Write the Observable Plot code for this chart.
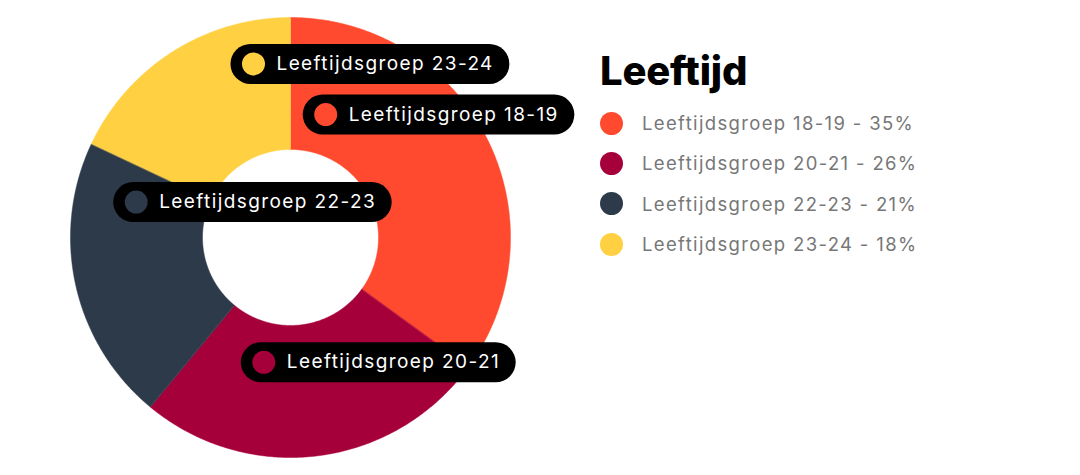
<!DOCTYPE html>
<html>
<head>
<meta charset="utf-8">
<script src="https://cdn.jsdelivr.net/npm/d3@7"></script>
<script src="https://cdn.jsdelivr.net/npm/@observablehq/plot@0.6"></script>
<style>
  html, body { margin: 0; padding: 0; background: #fff; }
  #wrap { position: relative; width: 1080px; height: 475px; font-family: Inter, sans-serif; }
  #chart { position: absolute; left: 0; top: 0; }
  #legend { position: absolute; left: 600px; top: 46px; }
  #legend .title { font-size: 40px; font-weight: 800; color: #000; line-height: 50px; height: 57px; letter-spacing: -0.2px; }
  #legend .item { display: flex; align-items: center; height: 40.3px; }
  #legend .sw { width: 23px; height: 23px; border-radius: 50%; margin-right: 19px; flex: none; }
  #legend .lb { font-size: 18.5px; color: #777; letter-spacing: 1.35px; }
</style>
</head>
<body>
<div id="wrap">
  <div id="chart"></div>
  <div id="legend"></div>
</div>
<script>
// ---- data ----
const categories = ["Leeftijdsgroep 18-19", "Leeftijdsgroep 20-21", "Leeftijdsgroep 22-23", "Leeftijdsgroep 23-24"];
const values = [35, 26, 21, 18];
const colors = ["#FF4A2F", "#A6003B", "#2D3A4A", "#FFD041"];
const legendTitle = "Leeftijd";

// ---- layout (styling, not data) ----
const W = 580, H = 475, mL = 70, mR = 70, mT = 17, mB = 18;
const k = (W - mL - mR) / 2;            // pixels per unit radius
const innerR = 0.4;                     // donut hole fraction
const labelR = 0.7;                     // anchor radius for tooltips
const tipFont = 19, tipFamily = "Inter", tipSpacing = 1.4;
// tooltip pill offsets from slice centroid, in px: [left edge dx, vertical center dy]
const tipOffset = [[-125, -53], [-69, -28], [-27, -69], [22.5, -43.5]];

const total = d3.sum(values);
const slices = [];
let cum = 0;
values.forEach((v, i) => {
  const a0 = 2 * Math.PI * cum / total;
  cum += v;
  const a1 = 2 * Math.PI * cum / total;
  slices.push({cat: categories[i], value: v, a0, a1, am: (a0 + a1) / 2});
});

// polygon outlines for each slice
const ring = [];
for (const s of slices) {
  const n = Math.max(2, Math.ceil((s.a1 - s.a0) / (Math.PI / 360)));
  for (let j = 0; j <= n; j++) {
    const t = s.a0 + (s.a1 - s.a0) * j / n;
    ring.push({cat: s.cat, x: Math.sin(t), y: Math.cos(t)});
  }
  for (let j = n; j >= 0; j--) {
    const t = s.a0 + (s.a1 - s.a0) * j / n;
    ring.push({cat: s.cat, x: innerR * Math.sin(t), y: innerR * Math.cos(t)});
  }
}

// measure text width for pills
const ctx = document.createElement("canvas").getContext("2d");
ctx.font = `${tipFont}px ${tipFamily}`;

const tips = slices.map((s, i) => {
  const cx = labelR * Math.sin(s.am), cy = labelR * Math.cos(s.am);
  const [dx, dy] = tipOffset[i];
  const left = cx + dx / k;
  const y = cy - dy / k;
  const tw = ctx.measureText(s.cat).width + tipSpacing * (s.cat.length - 1);
  const w = 46 + tw + 17;
  return {cat: s.cat, x1: left + 20 / k, x2: left + (w - 20) / k, y, dotX: left + 23 / k, textX: left + 46 / k};
});

const chart = Plot.plot({
  width: W, height: H,
  marginLeft: mL, marginRight: mR, marginTop: mT, marginBottom: mB,
  x: {domain: [-1, 1], axis: null},
  y: {domain: [-1, 1], axis: null},
  color: {domain: categories, range: colors},
  style: {fontFamily: tipFamily, background: "transparent", letterSpacing: `${tipSpacing}px`},
  marks: [
    Plot.line(ring, {x: "x", y: "y", z: "cat", fill: "cat", stroke: "cat", strokeWidth: 0.5, curve: "linear-closed"}),
    Plot.link(tips, {x1: "x1", x2: "x2", y1: "y", y2: "y", stroke: "#000", strokeWidth: 40, strokeLinecap: "round"}),
    Plot.dot(tips, {x: "dotX", y: "y", r: 11.5, fill: "cat", stroke: null}),
    Plot.text(tips, {x: "textX", y: "y", text: "cat", textAnchor: "start", fill: "#fff", fontSize: tipFont, fontFamily: tipFamily})
  ]
});
document.getElementById("chart").appendChild(chart);

// legend
const lg = d3.select("#legend");
lg.append("div").attr("class", "title").text(legendTitle);
categories.forEach((c, i) => {
  const it = lg.append("div").attr("class", "item");
  it.append("div").attr("class", "sw").style("background", colors[i]);
  it.append("div").attr("class", "lb").text(`${c} - ${values[i]}%`);
});
</script>
</body>
</html>
